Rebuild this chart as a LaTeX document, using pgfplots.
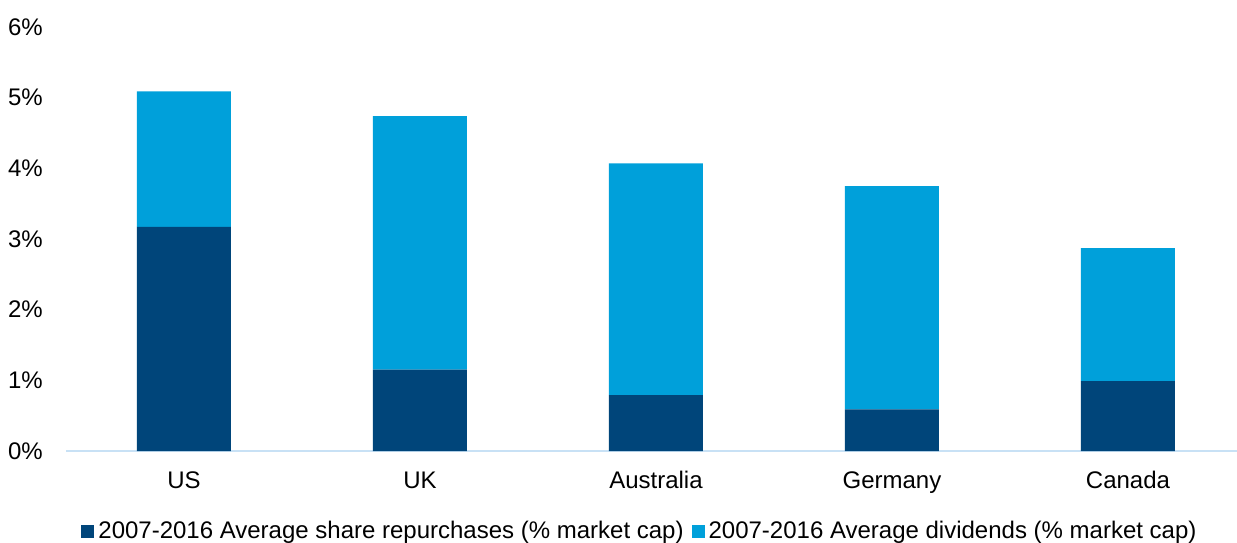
\documentclass[border=0pt]{standalone}
\usepackage{fontspec}
\setmainfont{Liberation Sans}
\usepackage{pgfplots}
\pgfplotsset{compat=1.18}
\definecolor{navy}{HTML}{00457A}
\definecolor{lblue}{HTML}{00A0DA}
\definecolor{axisc}{HTML}{C8E1F5}
\begin{document}
\begin{tikzpicture}
\begin{axis}[
  at={(66pt,91pt)}, anchor=south west,
  scale only axis, width=1180pt, height=424pt,
  font=\fontsize{24}{28}\selectfont,
  ybar stacked, bar width=94pt,
  xmin=-0.5, xmax=4.5, ymin=0, ymax=6,
  xtick=data, xticklabels={US,UK,Australia,Germany,Canada},
  ytick={0,1,2,3,4,5,6},
  yticklabels={0\%,1\%,2\%,3\%,4\%,5\%,6\%},
  major tick length=0pt,
  tick style={draw=none},
  axis x line*=bottom, axis y line*=left,
  x axis line style={draw=axisc, line width=1.5pt, -},
  y axis line style={draw=none},
  yticklabel style={inner sep=0pt, anchor=east, xshift=-23pt},
  xticklabel style={inner sep=0pt, anchor=base, yshift=-37pt},
  legend style={at={(0.4864,-0.1887)}, anchor=center, draw=none, fill=none,
    legend columns=2, inner sep=0pt,
    /tikz/every even column/.append style={column sep=6pt},
    /tikz/every odd column/.append style={column sep=2pt},
    font=\fontsize{24}{28}\selectfont},
  legend image code/.code={\fill[#1] (0pt,-6.5pt) rectangle (13pt,6.5pt);},
]
\addplot[fill=navy, draw=none] coordinates {(0,3.17) (1,1.15) (2,0.79) (3,0.59) (4,0.99)};
\addplot[fill=lblue, draw=none] coordinates {(0,1.92) (1,3.59) (2,3.28) (3,3.16) (4,1.88)};
\legend{2007-2016 Average share repurchases (\% market cap), 2007-2016 Average dividends (\% market cap)}
\end{axis}
\pgfresetboundingbox
\useasboundingbox (0,0) rectangle (1237pt,542pt);
\end{tikzpicture}
\end{document}
